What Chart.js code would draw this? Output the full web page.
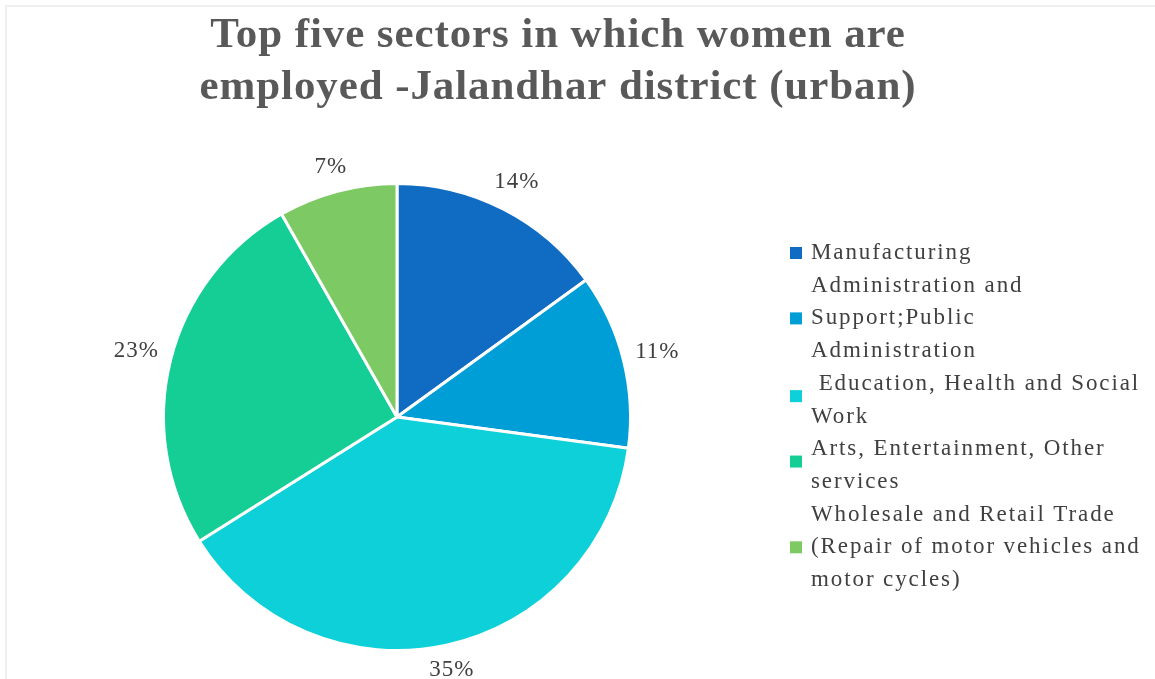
<!DOCTYPE html>
<html>
<head>
<meta charset="utf-8">
<script src="https://cdn.jsdelivr.net/npm/chart.js@4.4.0/dist/chart.umd.min.js"></script>
<style>
  html, body { margin: 0; padding: 0; background: #fff; }
  #wrap { width: 1155px; height: 679px; position: relative; }
</style>
</head>
<body>
<div id="wrap"><canvas id="sectorChart"></canvas></div>
<script>
// Data ------------------------------
const titleLines = ["Top five sectors in which women are", "employed -Jalandhar district (urban)"];
const sectors = [
  ["Manufacturing"],
  ["Administration and", "Support;Public", "Administration"],
  [" Education, Health and Social", "Work"],
  ["Arts, Entertainment, Other", "services"],
  ["Wholesale and Retail Trade", "(Repair of motor vehicles and", "motor cycles)"]
];
const shares = [13.5, 10.9, 35.0, 23.1, 7.4];
const sliceColors = ["#106cc2", "#009ed6", "#0dd0d9", "#14ce96", "#7dca64"];

const SERIF = "'Liberation Serif', 'DejaVu Serif', serif";
const TEXT = "#404040";

// Title, frame, percentage labels and legend
const decorations = {
  id: "decorations",
  beforeDraw(chart) {
    const ctx = chart.ctx;
    ctx.save();
    ctx.fillStyle = "#efefef";
    ctx.fillRect(5, 5, chart.width - 5, 2);
    ctx.fillRect(5, 5, 2, chart.height - 5);
    ctx.restore();
  },
  afterDraw(chart) {
    const ctx = chart.ctx;
    ctx.save();

    // title
    ctx.fillStyle = "#595959";
    ctx.font = "bold 43px " + SERIF;
    ctx.letterSpacing = "0.9px";
    ctx.textAlign = "center";
    ctx.textBaseline = "middle";
    titleLines.forEach((line, i) => ctx.fillText(line, 558, 36 + i * 52));

    // percentage labels outside the slices
    ctx.fillStyle = TEXT;
    ctx.font = "23px " + SERIF;
    ctx.letterSpacing = "1px";
    const meta = chart.getDatasetMeta(0);
    meta.data.forEach((arc, i) => {
      const p = arc.getProps(["x", "y", "startAngle", "endAngle", "outerRadius"], true);
      const mid = (p.startAngle + p.endAngle) / 2;
      const text = Math.round(shares[i]) + "%";
      const w = ctx.measureText(text).width;
      const h = 20;
      const cos = Math.cos(mid), sin = Math.sin(mid);
      const r = p.outerRadius + 11 + Math.abs(cos) * w / 2 + Math.abs(sin) * h / 2;
      ctx.fillText(text, p.x + cos * r, p.y + sin * r);
    });

    // legend
    ctx.font = "23px " + SERIF;
    ctx.letterSpacing = "1.9px";
    ctx.textAlign = "left";
    const lineH = 32.7;
    let y = 253;
    sectors.forEach((lines, i) => {
      const top = y;
      lines.forEach(line => {
        ctx.fillStyle = TEXT;
        ctx.fillText(line, 811, y);
        y += lineH;
      });
      const boxY = top + (lines.length - 1) * lineH / 2 - (lines.length === 2 ? 4 : 0);
      ctx.fillStyle = sliceColors[i];
      ctx.fillRect(790, boxY - 6, 12, 12);
    });

    ctx.restore();
  }
};

new Chart(document.getElementById("sectorChart"), {
  type: "pie",
  data: {
    labels: sectors,
    datasets: [
      {
        data: shares,
        backgroundColor: sliceColors,
        borderColor: "#ffffff",
        borderWidth: 3
      }
    ]
  },
  options: {
    responsive: true,
    maintainAspectRatio: false,
    animation: false,
    layout: {
      padding: { top: 181, bottom: 26, left: 162, right: 523 }
    },
    plugins: {
      legend: { display: false },
      title: { display: false },
      tooltip: { enabled: false }
    }
  },
  plugins: [decorations]
});
</script>
</body>
</html>
